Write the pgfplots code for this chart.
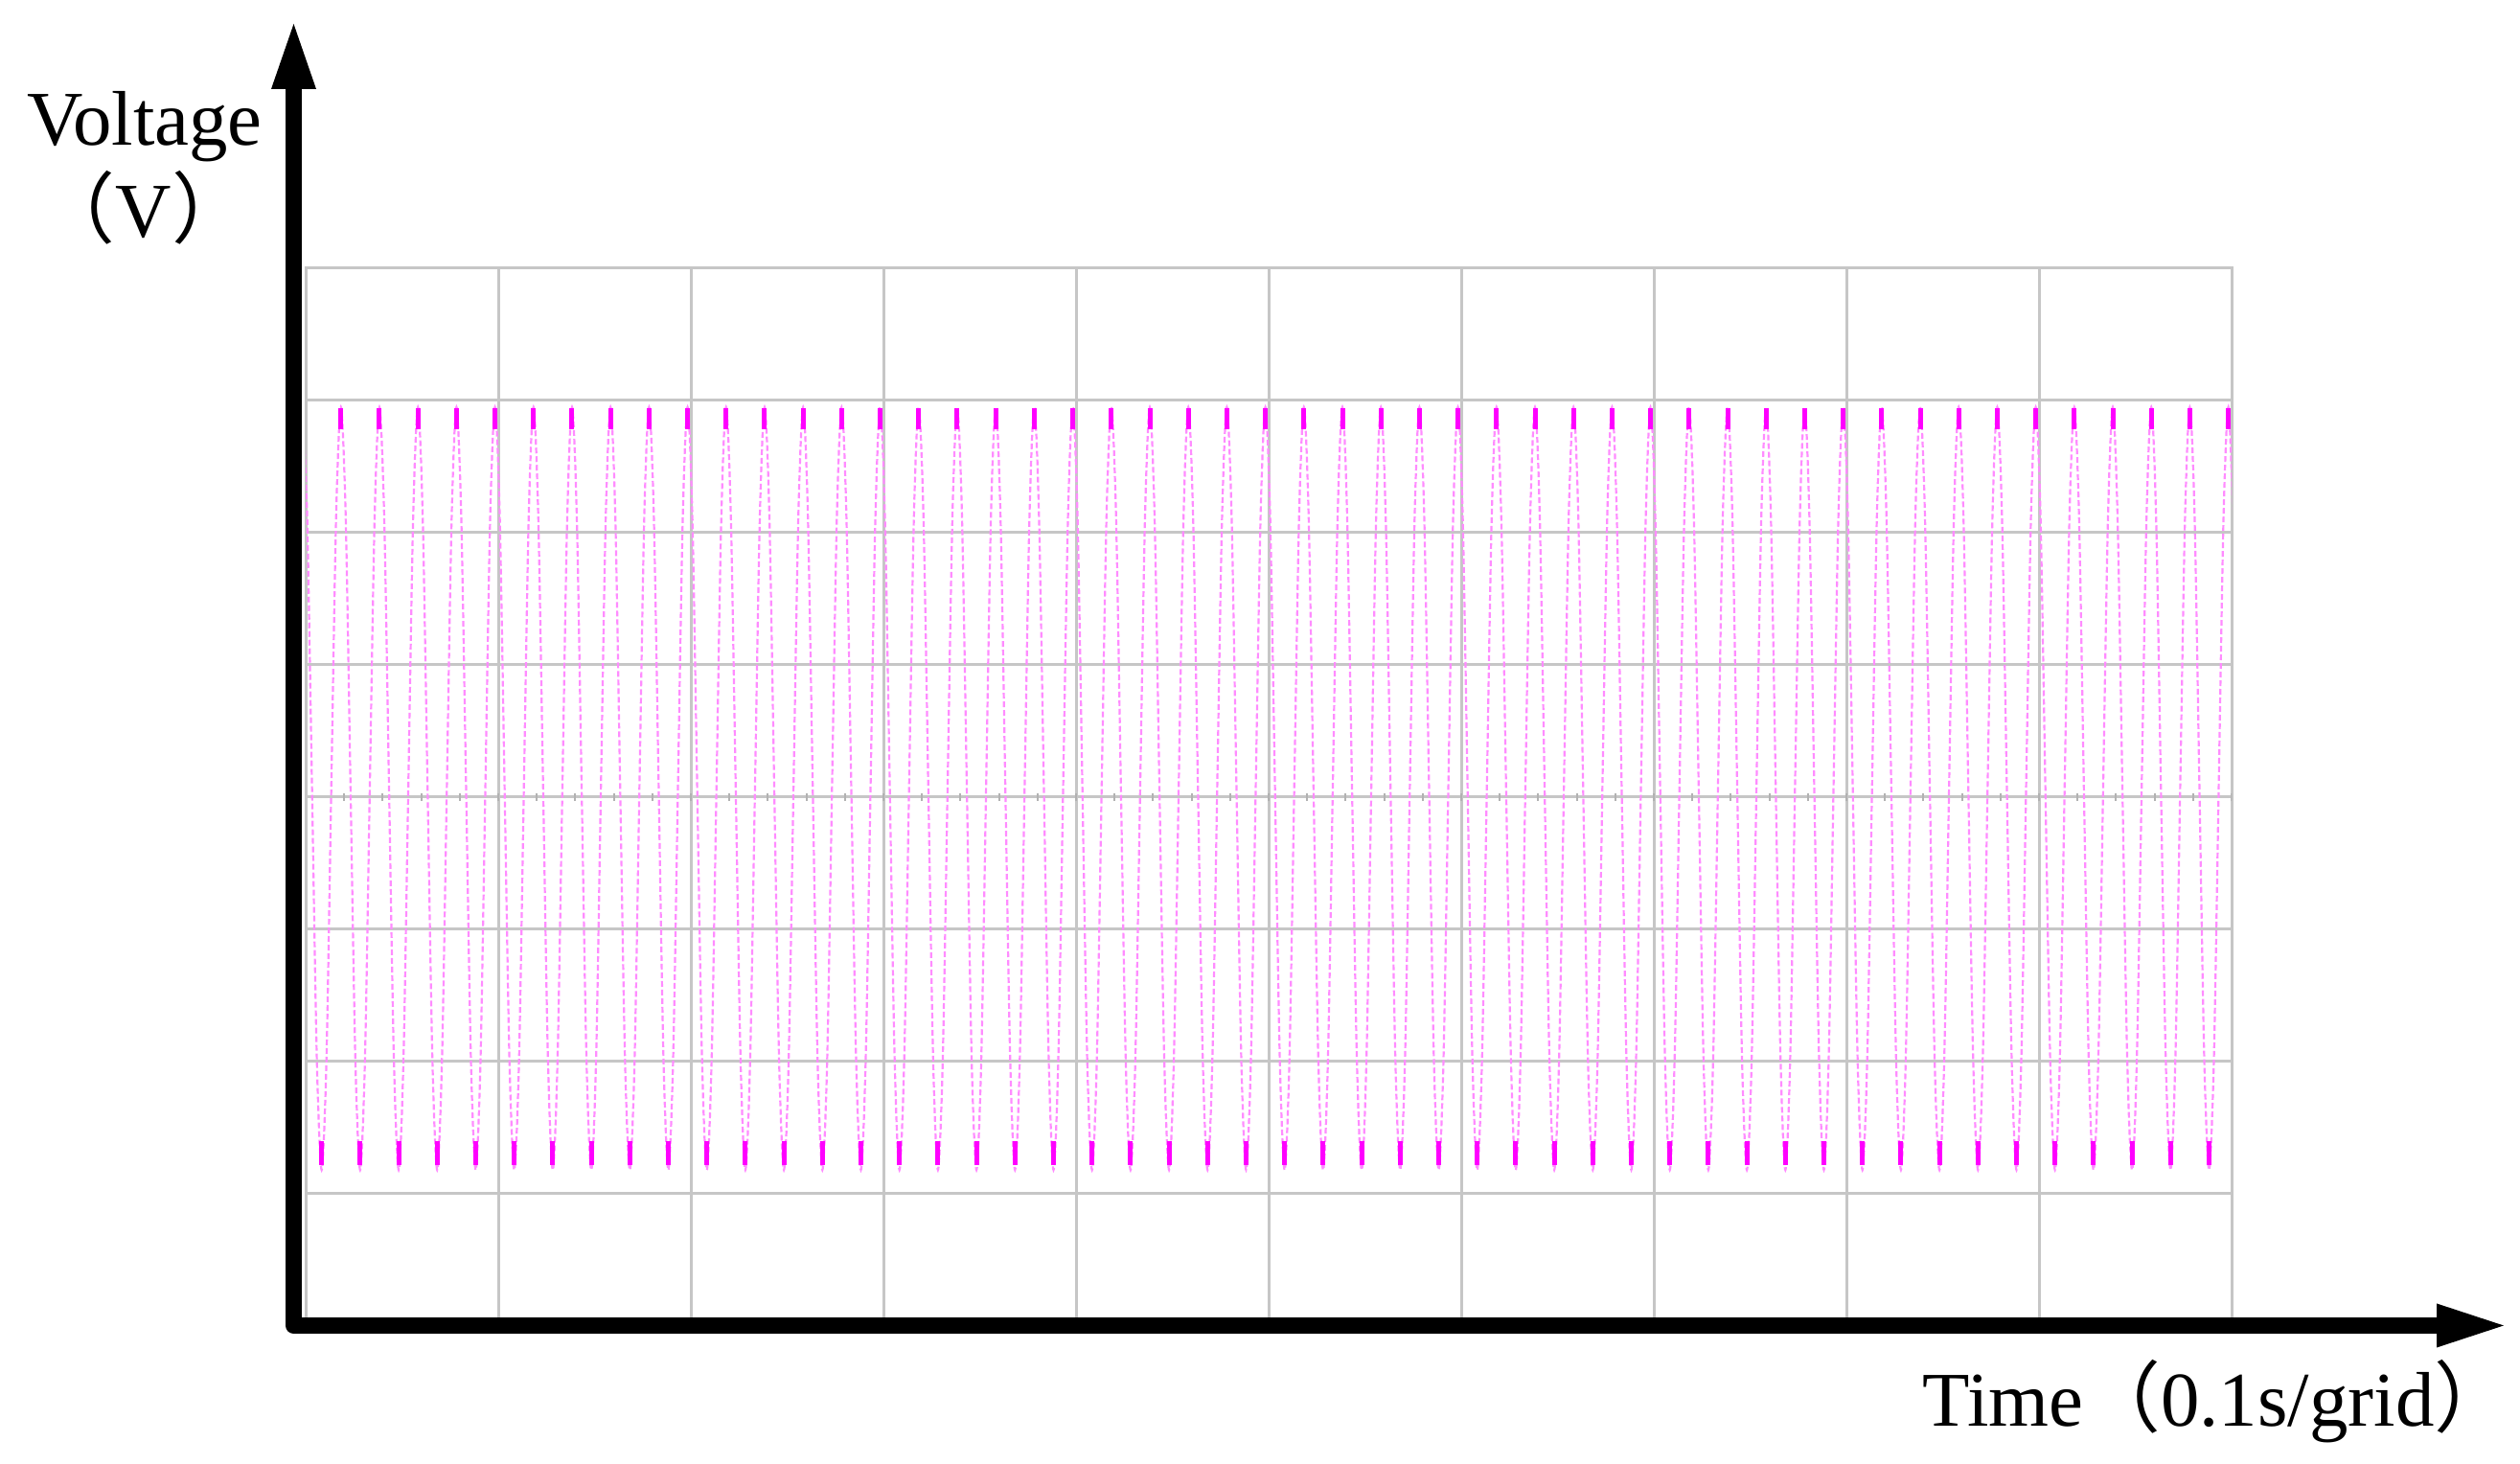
\documentclass[border=0pt]{standalone}
\usepackage{fontspec}
\setmainfont{Liberation Serif}
\newfontfamily\cjk{Noto Sans CJK SC}
\usepackage{pgfplots}
\usepackage{pgfplotstable}
\pgfplotsset{compat=1.18}
\usetikzlibrary{arrows.meta}

\definecolor{trace}{RGB}{255,140,255}
\definecolor{tip}{RGB}{255,0,255}

% short strokes just inside the turning points of the trace
\pgfdeclareplotmark{tipdown}{%
  \pgfpathmoveto{\pgfqpoint{0pt}{-0.2pt}}%
  \pgfpathlineto{\pgfqpoint{0pt}{-6.5pt}}%
  \pgfusepathqstroke}
\pgfdeclareplotmark{tipup}{%
  \pgfpathmoveto{\pgfqpoint{0pt}{1.4pt}}%
  \pgfpathlineto{\pgfqpoint{0pt}{8.5pt}}%
  \pgfusepathqstroke}

% one sample every 1/8 period, 5 periods per grid (0.1 s/grid, 50 Hz)
\pgfplotstableread[row sep=\\]{
x y\\
-0.017 2.95\\ 0.008 2.11\\ 0.033 0.07\\ 0.058 -1.98\\ 0.083 -2.82\\ 0.108 -1.98\\ 0.133 0.07\\ 0.158 2.11\\
0.183 2.95\\ 0.208 2.11\\ 0.233 0.07\\ 0.258 -1.98\\ 0.283 -2.82\\ 0.308 -1.98\\ 0.333 0.07\\ 0.358 2.11\\
0.383 2.95\\ 0.408 2.11\\ 0.433 0.07\\ 0.458 -1.98\\ 0.483 -2.82\\ 0.508 -1.98\\ 0.533 0.07\\ 0.558 2.11\\
0.583 2.95\\ 0.608 2.11\\ 0.633 0.07\\ 0.658 -1.98\\ 0.683 -2.82\\ 0.708 -1.98\\ 0.733 0.07\\ 0.758 2.11\\
0.783 2.95\\ 0.808 2.11\\ 0.833 0.07\\ 0.858 -1.98\\ 0.883 -2.82\\ 0.908 -1.98\\ 0.933 0.07\\ 0.958 2.11\\
0.983 2.95\\ 1.008 2.11\\ 1.033 0.07\\ 1.058 -1.98\\ 1.083 -2.82\\ 1.108 -1.98\\ 1.133 0.07\\ 1.158 2.11\\
1.183 2.95\\ 1.208 2.11\\ 1.233 0.07\\ 1.258 -1.98\\ 1.283 -2.82\\ 1.308 -1.98\\ 1.333 0.07\\ 1.358 2.11\\
1.383 2.95\\ 1.408 2.11\\ 1.433 0.07\\ 1.458 -1.98\\ 1.483 -2.82\\ 1.508 -1.98\\ 1.533 0.07\\ 1.558 2.11\\
1.583 2.95\\ 1.608 2.11\\ 1.633 0.07\\ 1.658 -1.98\\ 1.683 -2.82\\ 1.708 -1.98\\ 1.733 0.07\\ 1.758 2.11\\
1.783 2.95\\ 1.808 2.11\\ 1.833 0.07\\ 1.858 -1.98\\ 1.883 -2.82\\ 1.908 -1.98\\ 1.933 0.07\\ 1.958 2.11\\
1.983 2.95\\ 2.008 2.11\\ 2.033 0.07\\ 2.058 -1.98\\ 2.083 -2.82\\ 2.108 -1.98\\ 2.133 0.07\\ 2.158 2.11\\
2.183 2.95\\ 2.208 2.11\\ 2.233 0.07\\ 2.258 -1.98\\ 2.283 -2.82\\ 2.308 -1.98\\ 2.333 0.07\\ 2.358 2.11\\
2.383 2.95\\ 2.408 2.11\\ 2.433 0.07\\ 2.458 -1.98\\ 2.483 -2.82\\ 2.508 -1.98\\ 2.533 0.07\\ 2.558 2.11\\
2.583 2.95\\ 2.608 2.11\\ 2.633 0.07\\ 2.658 -1.98\\ 2.683 -2.82\\ 2.708 -1.98\\ 2.733 0.07\\ 2.758 2.11\\
2.783 2.95\\ 2.808 2.11\\ 2.833 0.07\\ 2.858 -1.98\\ 2.883 -2.82\\ 2.908 -1.98\\ 2.933 0.07\\ 2.958 2.11\\
2.983 2.95\\ 3.008 2.11\\ 3.033 0.07\\ 3.058 -1.98\\ 3.083 -2.82\\ 3.108 -1.98\\ 3.133 0.07\\ 3.158 2.11\\
3.183 2.95\\ 3.208 2.11\\ 3.233 0.07\\ 3.258 -1.98\\ 3.283 -2.82\\ 3.308 -1.98\\ 3.333 0.07\\ 3.358 2.11\\
3.383 2.95\\ 3.408 2.11\\ 3.433 0.07\\ 3.458 -1.98\\ 3.483 -2.82\\ 3.508 -1.98\\ 3.533 0.07\\ 3.558 2.11\\
3.583 2.95\\ 3.608 2.11\\ 3.633 0.07\\ 3.658 -1.98\\ 3.683 -2.82\\ 3.708 -1.98\\ 3.733 0.07\\ 3.758 2.11\\
3.783 2.95\\ 3.808 2.11\\ 3.833 0.07\\ 3.858 -1.98\\ 3.883 -2.82\\ 3.908 -1.98\\ 3.933 0.07\\ 3.958 2.11\\
3.983 2.95\\ 4.008 2.11\\ 4.033 0.07\\ 4.058 -1.98\\ 4.083 -2.82\\ 4.108 -1.98\\ 4.133 0.07\\ 4.158 2.11\\
4.183 2.95\\ 4.208 2.11\\ 4.233 0.07\\ 4.258 -1.98\\ 4.283 -2.82\\ 4.308 -1.98\\ 4.333 0.07\\ 4.358 2.11\\
4.383 2.95\\ 4.408 2.11\\ 4.433 0.07\\ 4.458 -1.98\\ 4.483 -2.82\\ 4.508 -1.98\\ 4.533 0.07\\ 4.558 2.11\\
4.583 2.95\\ 4.608 2.11\\ 4.633 0.07\\ 4.658 -1.98\\ 4.683 -2.82\\ 4.708 -1.98\\ 4.733 0.07\\ 4.758 2.11\\
4.783 2.95\\ 4.808 2.11\\ 4.833 0.07\\ 4.858 -1.98\\ 4.883 -2.82\\ 4.908 -1.98\\ 4.933 0.07\\ 4.958 2.11\\
4.983 2.95\\ 5.008 2.11\\ 5.033 0.07\\ 5.058 -1.98\\ 5.083 -2.82\\ 5.108 -1.98\\ 5.133 0.07\\ 5.158 2.11\\
5.183 2.95\\ 5.208 2.11\\ 5.233 0.07\\ 5.258 -1.98\\ 5.283 -2.82\\ 5.308 -1.98\\ 5.333 0.07\\ 5.358 2.11\\
5.383 2.95\\ 5.408 2.11\\ 5.433 0.07\\ 5.458 -1.98\\ 5.483 -2.82\\ 5.508 -1.98\\ 5.533 0.07\\ 5.558 2.11\\
5.583 2.95\\ 5.608 2.11\\ 5.633 0.07\\ 5.658 -1.98\\ 5.683 -2.82\\ 5.708 -1.98\\ 5.733 0.07\\ 5.758 2.11\\
5.783 2.95\\ 5.808 2.11\\ 5.833 0.07\\ 5.858 -1.98\\ 5.883 -2.82\\ 5.908 -1.98\\ 5.933 0.07\\ 5.958 2.11\\
5.983 2.95\\ 6.008 2.11\\ 6.033 0.07\\ 6.058 -1.98\\ 6.083 -2.82\\ 6.108 -1.98\\ 6.133 0.07\\ 6.158 2.11\\
6.183 2.95\\ 6.208 2.11\\ 6.233 0.07\\ 6.258 -1.98\\ 6.283 -2.82\\ 6.308 -1.98\\ 6.333 0.07\\ 6.358 2.11\\
6.383 2.95\\ 6.408 2.11\\ 6.433 0.07\\ 6.458 -1.98\\ 6.483 -2.82\\ 6.508 -1.98\\ 6.533 0.07\\ 6.558 2.11\\
6.583 2.95\\ 6.608 2.11\\ 6.633 0.07\\ 6.658 -1.98\\ 6.683 -2.82\\ 6.708 -1.98\\ 6.733 0.07\\ 6.758 2.11\\
6.783 2.95\\ 6.808 2.11\\ 6.833 0.07\\ 6.858 -1.98\\ 6.883 -2.82\\ 6.908 -1.98\\ 6.933 0.07\\ 6.958 2.11\\
6.983 2.95\\ 7.008 2.11\\ 7.033 0.07\\ 7.058 -1.98\\ 7.083 -2.82\\ 7.108 -1.98\\ 7.133 0.07\\ 7.158 2.11\\
7.183 2.95\\ 7.208 2.11\\ 7.233 0.07\\ 7.258 -1.98\\ 7.283 -2.82\\ 7.308 -1.98\\ 7.333 0.07\\ 7.358 2.11\\
7.383 2.95\\ 7.408 2.11\\ 7.433 0.07\\ 7.458 -1.98\\ 7.483 -2.82\\ 7.508 -1.98\\ 7.533 0.07\\ 7.558 2.11\\
7.583 2.95\\ 7.608 2.11\\ 7.633 0.07\\ 7.658 -1.98\\ 7.683 -2.82\\ 7.708 -1.98\\ 7.733 0.07\\ 7.758 2.11\\
7.783 2.95\\ 7.808 2.11\\ 7.833 0.07\\ 7.858 -1.98\\ 7.883 -2.82\\ 7.908 -1.98\\ 7.933 0.07\\ 7.958 2.11\\
7.983 2.95\\ 8.008 2.11\\ 8.033 0.07\\ 8.058 -1.98\\ 8.083 -2.82\\ 8.108 -1.98\\ 8.133 0.07\\ 8.158 2.11\\
8.183 2.95\\ 8.208 2.11\\ 8.233 0.07\\ 8.258 -1.98\\ 8.283 -2.82\\ 8.308 -1.98\\ 8.333 0.07\\ 8.358 2.11\\
8.383 2.95\\ 8.408 2.11\\ 8.433 0.07\\ 8.458 -1.98\\ 8.483 -2.82\\ 8.508 -1.98\\ 8.533 0.07\\ 8.558 2.11\\
8.583 2.95\\ 8.608 2.11\\ 8.633 0.07\\ 8.658 -1.98\\ 8.683 -2.82\\ 8.708 -1.98\\ 8.733 0.07\\ 8.758 2.11\\
8.783 2.95\\ 8.808 2.11\\ 8.833 0.07\\ 8.858 -1.98\\ 8.883 -2.82\\ 8.908 -1.98\\ 8.933 0.07\\ 8.958 2.11\\
8.983 2.95\\ 9.008 2.11\\ 9.033 0.07\\ 9.058 -1.98\\ 9.083 -2.82\\ 9.108 -1.98\\ 9.133 0.07\\ 9.158 2.11\\
9.183 2.95\\ 9.208 2.11\\ 9.233 0.07\\ 9.258 -1.98\\ 9.283 -2.82\\ 9.308 -1.98\\ 9.333 0.07\\ 9.358 2.11\\
9.383 2.95\\ 9.408 2.11\\ 9.433 0.07\\ 9.458 -1.98\\ 9.483 -2.82\\ 9.508 -1.98\\ 9.533 0.07\\ 9.558 2.11\\
9.583 2.95\\ 9.608 2.11\\ 9.633 0.07\\ 9.658 -1.98\\ 9.683 -2.82\\ 9.708 -1.98\\ 9.733 0.07\\ 9.758 2.11\\
9.783 2.95\\ 9.808 2.11\\ 9.833 0.07\\ 9.858 -1.98\\ 9.883 -2.82\\ 9.908 -1.98\\ 9.933 0.07\\ 9.958 2.11\\
9.983 2.95\\ 10.008 2.11\\
}\wave

\begin{document}
\begin{tikzpicture}
\path[use as bounding box] (0,0) rectangle (26.30,15.28);

\begin{axis}[
  at={(3.19cm,1.44cm)}, anchor=south west,
  scale only axis,
  width=20.10cm, height=11.04cm,
  xmin=0, xmax=10, ymin=-4, ymax=4,
  xtick={0,...,10}, ytick={-4,...,4},
  xticklabels={}, yticklabels={},
  major tick length=0pt,
  grid=major,
  grid style={gray!45, line width=0.03cm},
  axis line style={gray!45, line width=0.03cm},
]
% small division marks on the centre line
\pgfplotsinvokeforeach{0.2,0.4,...,9.9}{
  \draw[gray!60, line width=0.02cm] (axis cs:#1,-0.03) -- (axis cs:#1,0.03);
}
\addplot[trace, line width=0.022cm, dash pattern=on 0.06cm off 0.03cm, smooth] table {\wave};
% bright tips where the trace turns
\addplot[only marks, mark=tipdown, mark repeat=8, mark phase=8,
  mark options={draw=tip, line width=0.05cm}] table {\wave};
\addplot[only marks, mark=tipup, mark repeat=8, mark phase=4,
  mark options={draw=tip, line width=0.05cm}] table {\wave};
\end{axis}

\draw[line width=0.17cm, line join=round,
  {Triangle[length=0.68cm, width=0.47cm, line width=0pt]}-{Triangle[length=0.70cm, width=0.46cm, line width=0pt]}]
  (3.065,15.03) -- (3.065,1.445) -- (26.13,1.445);

\node[anchor=base, inner sep=0pt] at (1.51,13.76) {\fontsize{23}{27}\selectfont Voltage};
\node[anchor=base, inner sep=0pt] at (1.50,12.80) {\fontsize{23}{27}\selectfont\cjk（\rmfamily V\cjk）};
\node[anchor=base west, inner sep=0pt] at (20.06,0.39) {\fontsize{23}{27}\selectfont Time\cjk（\rmfamily 0.1s/grid\cjk）};
\end{tikzpicture}
\end{document}
